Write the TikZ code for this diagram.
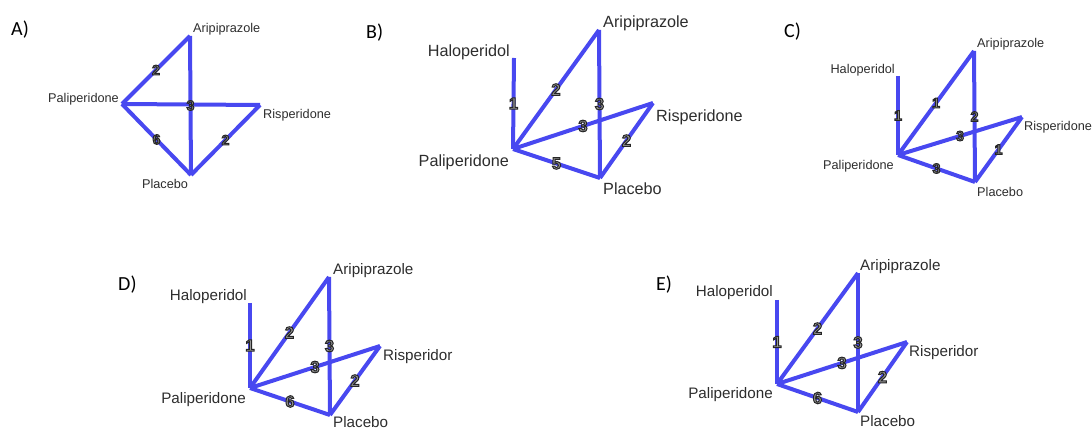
\documentclass[tikz,border=0pt]{standalone}
\usepackage{fontspec}
\setmainfont{Liberation Sans}
\newfontfamily\panelfont{Carlito}
\definecolor{netblue}{RGB}{72,72,240}
\definecolor{labgray}{RGB}{45,45,45}
\definecolor{numfill}{RGB}{150,150,150}
\newcommand{\olnum}[1]{{\color{numfill}\special{pdf:code q 2 Tr 1.0 w 0.15 0.15 0.15 RG}#1\special{pdf:code Q}}}
\tikzset{
  edge/.style={draw=netblue, line width=4pt},
  vlab/.style={inner sep=0pt, text=labgray},
  smallv/.style={vlab, font=\fontsize{12.7}{14}\selectfont},
  bigv/.style={vlab, font=\fontsize{16.2}{18}\selectfont},
  midv/.style={vlab, font=\fontsize{15.2}{17}\selectfont},
  elab/.style={inner sep=0pt, midway},
  esmall/.style={elab, font=\bfseries\fontsize{14}{14}\selectfont},
  ebig/.style={elab, font=\bfseries\fontsize{16.5}{16.5}\selectfont},
  panel/.style={inner sep=0pt, anchor=west, font=\panelfont\fontsize{20}{22}\selectfont}
}
\begin{document}
\begin{tikzpicture}[x=1pt,y=-1pt]
\useasboundingbox (0,0) rectangle (1092,430);

% ---------------- Panel A ----------------
\node[panel] (pA) at (11,30) {A)};
\coordinate (aA) at (190,36);
\coordinate (aP) at (122,104);
\coordinate (aR) at (260,105);
\coordinate (aPl) at (191,175);
\draw[edge] (aP) -- (aA);
\draw[edge] (aA) -- (aPl);
\draw[edge] (aP) -- (aR);
\draw[edge] (aR) -- (aPl);
\draw[edge] (aP) -- (aPl);
\path (aP) -- (aA) node[esmall] (aL1) {\olnum{2}};
\path (aA) -- (aPl) node[esmall] (aL2) {\olnum{3}};
\path (aR) -- (aPl) node[esmall] (aL3) {\olnum{2}};
\path (aP) -- (aPl) node[esmall] (aL4) {\olnum{6}};
\node[smallv, anchor=west] (aTA) at (193,29) {Aripiprazole};
\node[smallv, anchor=east] (aTP) at (119,99) {Paliperidone};
\node[smallv, anchor=west] (aTR) at (263,115) {Risperidone};
\node[smallv] (aTPl) at (165,184) {Placebo};

% ---------------- Panel B ----------------
\node[panel] (pB) at (366,33) {B)};
\coordinate (bH) at (514,58);
\coordinate (bP) at (513,149);
\coordinate (bA) at (599,30);
\coordinate (bR) at (653,103);
\coordinate (bPl) at (600,178);
\draw[edge] (bH) -- (bP);
\draw[edge] (bP) -- (bA);
\draw[edge] (bA) -- (bPl);
\draw[edge] (bP) -- (bR);
\draw[edge] (bR) -- (bPl);
\draw[edge] (bP) -- (bPl);
\path (bH) -- (bP) node[ebig] (bL1) {\olnum{1}};
\path (bP) -- (bA) node[ebig] (bL2) {\olnum{2}};
\path (bA) -- (bPl) node[ebig] (bL3) {\olnum{3}};
\path (bP) -- (bR) node[ebig] (bL4) {\olnum{3}};
\path (bR) -- (bPl) node[ebig] (bL5) {\olnum{2}};
\path (bP) -- (bPl) node[ebig] (bL6) {\olnum{5}};
\node[bigv, anchor=east] (bTH) at (510,52) {Haloperidol};
\node[bigv, anchor=west] (bTA) at (603,23) {Aripiprazole};
\node[bigv, anchor=west] (bTR) at (656,117) {Risperidone};
\node[bigv, anchor=east] (bTP) at (509,162) {Paliperidone};
\node[bigv, anchor=west] (bTPl) at (603,189) {Placebo};

% ---------------- Panel C ----------------
\node[panel] (pC) at (784,32) {C)};
\coordinate (cH) at (898,76);
\coordinate (cP) at (898,155);
\coordinate (cA) at (974,51);
\coordinate (cR) at (1022,117);
\coordinate (cPl) at (975,182);
\draw[edge] (cH) -- (cP);
\draw[edge] (cP) -- (cA);
\draw[edge] (cA) -- (cPl);
\draw[edge] (cP) -- (cR);
\draw[edge] (cR) -- (cPl);
\draw[edge] (cP) -- (cPl);
\path (cH) -- (cP) node[esmall] (cL1) {\olnum{1}};
\path (cP) -- (cA) node[esmall] (cL2) {\olnum{1}};
\path (cA) -- (cPl) node[esmall] (cL3) {\olnum{2}};
\path (cP) -- (cR) node[esmall] (cL4) {\olnum{3}};
\path (cR) -- (cPl) node[esmall] (cL5) {\olnum{1}};
\path (cP) -- (cPl) node[esmall] (cL6) {\olnum{3}};
\node[smallv, anchor=east] (cTH) at (895,70) {Haloperidol};
\node[smallv, anchor=west] (cTA) at (977,44) {Aripiprazole};
\node[smallv, anchor=west] (cTR) at (1024,127) {Risperidone};
\node[smallv, anchor=east] (cTP) at (894,166) {Paliperidone};
\node[smallv, anchor=west] (cTPl) at (977,192) {Placebo};

% ---------------- Panel D ----------------
\node[panel] (pD) at (118,285) {D)};
\coordinate (dH) at (250,303);
\coordinate (dP) at (250,388);
\coordinate (dA) at (329,277);
\coordinate (dR) at (380,346);
\coordinate (dPl) at (330,415);
\draw[edge] (dH) -- (dP);
\draw[edge] (dP) -- (dA);
\draw[edge] (dA) -- (dPl);
\draw[edge] (dP) -- (dR);
\draw[edge] (dR) -- (dPl);
\draw[edge] (dP) -- (dPl);
\path (dH) -- (dP) node[ebig] (dL1) {\olnum{1}};
\path (dP) -- (dA) node[ebig] (dL2) {\olnum{2}};
\path (dA) -- (dPl) node[ebig] (dL3) {\olnum{3}};
\path (dP) -- (dR) node[ebig] (dL4) {\olnum{3}};
\path (dR) -- (dPl) node[ebig] (dL5) {\olnum{2}};
\path (dP) -- (dPl) node[ebig] (dL6) {\olnum{6}};
\node[midv, anchor=east] (dTH) at (247,297) {Haloperidol};
\node[midv, anchor=west] (dTA) at (333,271) {Aripiprazole};
\node[midv, anchor=west] (dTR) at (383,357) {Risperidor};
\node[midv, anchor=east] (dTP) at (246,400) {Paliperidone};
\node[midv, anchor=west] (dTPl) at (333,422) {Placebo};

% ---------------- Panel E ----------------
\node[panel] (pE) at (656,285) {E)};
\coordinate (eH) at (777,300);
\coordinate (eP) at (777,384);
\coordinate (eA) at (858,273);
\coordinate (eR) at (907,342);
\coordinate (ePl) at (858,412);
\draw[edge] (eH) -- (eP);
\draw[edge] (eP) -- (eA);
\draw[edge] (eA) -- (ePl);
\draw[edge] (eP) -- (eR);
\draw[edge] (eR) -- (ePl);
\draw[edge] (eP) -- (ePl);
\path (eH) -- (eP) node[ebig] (eL1) {\olnum{1}};
\path (eP) -- (eA) node[ebig] (eL2) {\olnum{2}};
\path (eA) -- (ePl) node[ebig] (eL3) {\olnum{3}};
\path (eP) -- (eR) node[ebig] (eL4) {\olnum{3}};
\path (eR) -- (ePl) node[ebig] (eL5) {\olnum{2}};
\path (eP) -- (ePl) node[ebig] (eL6) {\olnum{6}};
\node[midv, anchor=east] (eTH) at (773,293) {Haloperidol};
\node[midv, anchor=west] (eTA) at (860,267) {Aripiprazole};
\node[midv, anchor=west] (eTR) at (909,353) {Risperidor};
\node[midv, anchor=east] (eTP) at (773,395) {Paliperidone};
\node[midv, anchor=west] (eTPl) at (860,421) {Placebo};
\end{tikzpicture}
\end{document}
